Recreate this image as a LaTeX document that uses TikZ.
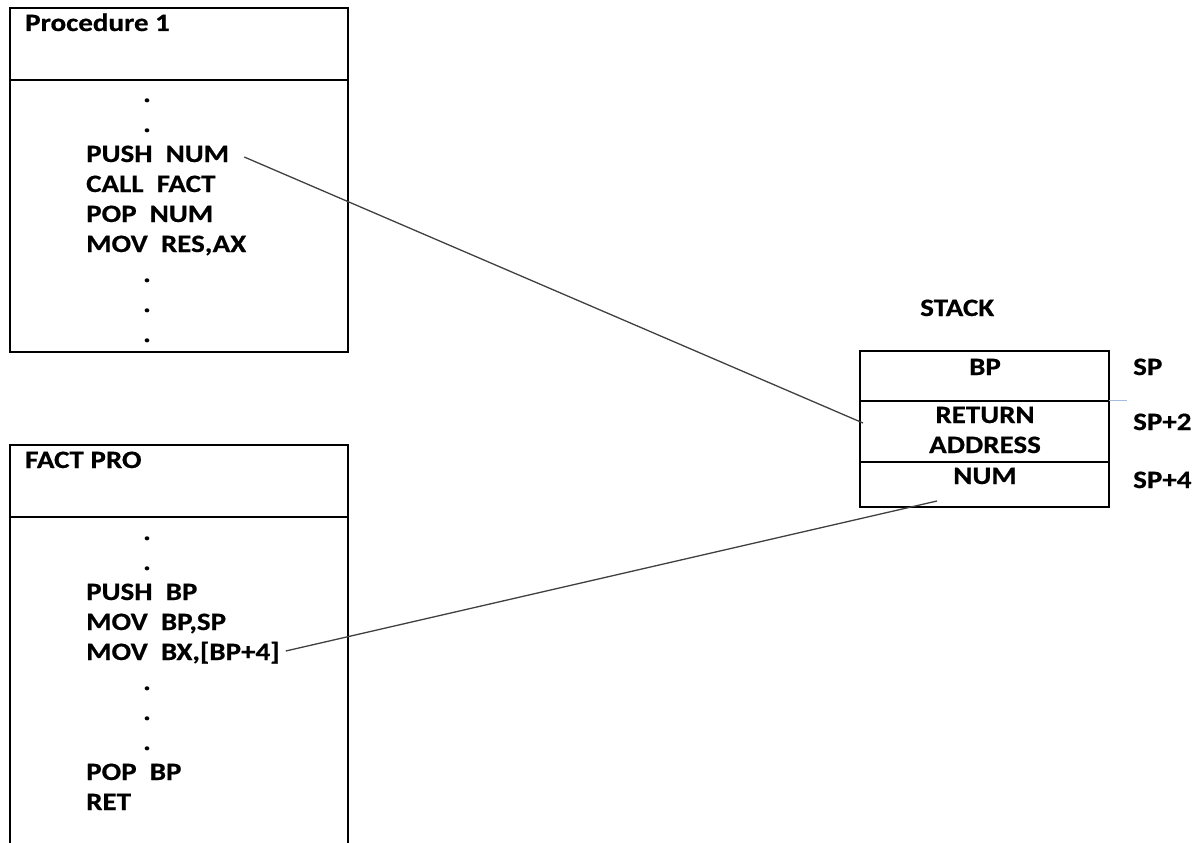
\documentclass[tikz,border=0pt]{standalone}
\usepackage{fontspec}
\newfontfamily\codefont{Carlito}[FakeStretch=1.16, FakeBold=0.6]
\begin{document}
\begin{tikzpicture}[x=1pt,y=-1pt]
\tikzset{
  frame/.style={line width=1.6pt, draw=black},
  txt/.style={inner sep=0pt, font=\codefont\bfseries\fontsize{25}{30}\selectfont},
  code/.style={txt, anchor=base west},
  ctr/.style={txt, anchor=base},
  link/.style={line width=1.3pt, draw=black!75},
}
\useasboundingbox (0,0) rectangle (1197,843);

% Procedure 1 listing
\draw[frame] (10,8) rectangle (348,352);
\draw[frame] (10,80) -- (348,80);
\node[code] (p1title) at (25,31) {Procedure 1};
\node[ctr] (p1d1) at (147,102) {.};
\node[ctr] (p1d2) at (147,132) {.};
\node[code] (pushnum) at (86,162) {PUSH\ \ NUM};
\node[code] (callfact) at (86,192) {CALL\ \ FACT};
\node[code] (popnum) at (86,222) {POP\ \ NUM};
\node[code] (movres) at (86,252) {MOV\ \ RES,AX};
\node[ctr] (p1d3) at (147,282) {.};
\node[ctr] (p1d4) at (147,312) {.};
\node[ctr] (p1d5) at (147,342) {.};

% FACT PRO listing (runs past the bottom edge)
\draw[frame] (10,870) -- (10,445) -- (348,445) -- (348,870);
\draw[frame] (10,517) -- (348,517);
\node[code] (fptitle) at (25,468) {FACT PRO};
\node[ctr] (fpd1) at (147,540) {.};
\node[ctr] (fpd2) at (147,570) {.};
\node[code] (pushbp) at (86,600) {PUSH\ \ BP};
\node[code] (movbp) at (86,630) {MOV\ \ BP,SP};
\node[code] (movbx) at (86,660) {MOV\ \ BX,[BP+4]};
\node[ctr] (fpd3) at (147,690) {.};
\node[ctr] (fpd4) at (147,720) {.};
\node[ctr] (fpd5) at (147,750) {.};
\node[code] (popbp) at (86,780) {POP\ \ BP};
\node[code] (ret) at (86,810) {RET};

% Stack frame
\node[code] (stacktitle) at (920,316) {STACK};
\draw[frame] (860,351) rectangle (1109,507);
\draw[frame] (860,401) -- (1109,401);
\draw[frame] (860,462) -- (1109,462);
\draw[line width=1pt, draw={rgb,255:red,165;green,188;blue,226}] (1109,400) -- (1127,400);
\node[ctr] (bp) at (985,375) {BP};
\node[ctr] (retl1) at (985,423) {RETURN};
\node[ctr] (retl2) at (985,453) {ADDRESS};
\node[ctr] (num) at (985,484) {NUM};
\node[code] (sp0) at (1133,375) {SP};
\node[code] (sp2) at (1133,430) {SP+2};
\node[code] (sp4) at (1133,488) {SP+4};

% Connectors
\coordinate (raslot) at (863,423);
\coordinate (numslot) at (937,501);
\draw[link] ([shift={(15,-5)}]pushnum.base east) -- (raslot);
\draw[link] ([shift={(6,-9)}]movbx.base east) -- (numslot);
\end{tikzpicture}
\end{document}
